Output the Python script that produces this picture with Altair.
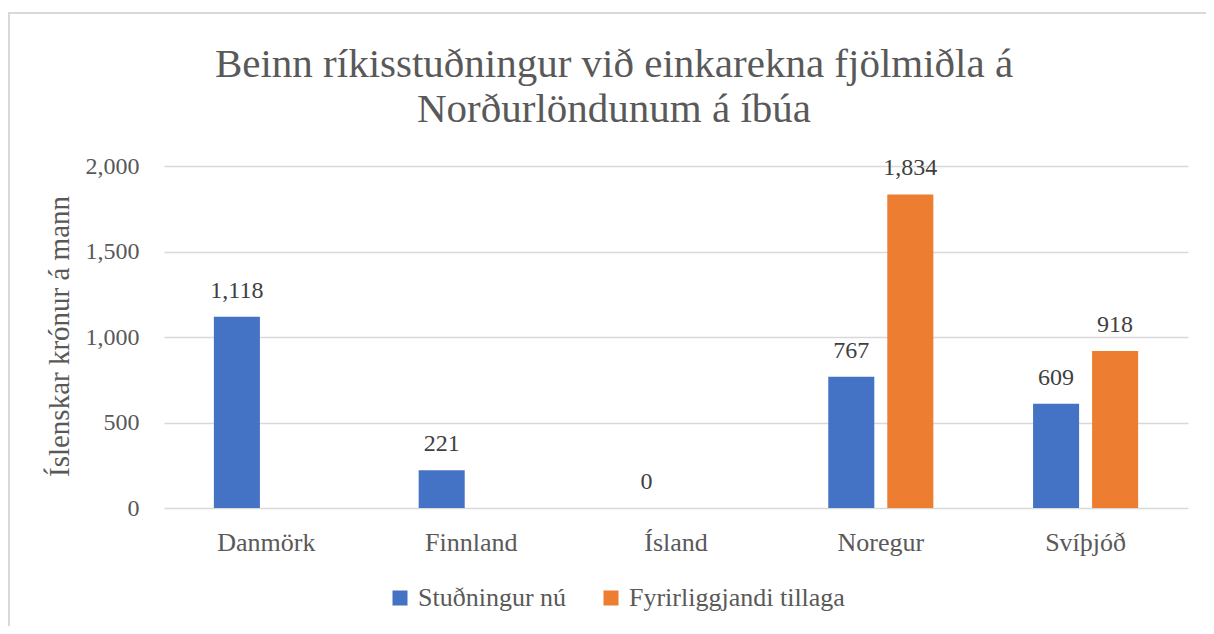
import altair as alt
import pandas as pd

countries = ["Danmörk", "Finnland", "Ísland", "Noregur", "Svíþjóð"]
series = ["Stuðningur nú", "Fyrirliggjandi tillaga"]
nu = [1118, 221, 0, 767, 609]
tillaga = [None, None, None, 1834, 918]
colors = ["#4472C4", "#ED7D31"]
title_lines = ["Beinn ríkisstuðningur við einkarekna fjölmiðla á", "Norðurlöndunum á íbúa"]
y_ticks = [0, 500, 1000, 1500, 2000]

rows = []
for c, a, b in zip(countries, nu, tillaga):
    if a is not None:
        rows.append({"land": c, "röð": series[0], "gildi": a})
    if b is not None:
        rows.append({"land": c, "röð": series[1], "gildi": b})
df = pd.DataFrame(rows)

FONT = "Liberation Serif"
GREY = "#595959"

x = alt.X("land:N", sort=countries, title=None,
          scale=alt.Scale(paddingInner=0.487, paddingOuter=0.2435),
          axis=alt.Axis(labelAngle=0, domain=False, ticks=False, labelPadding=21,
                        labelFontSize=26, labelFont=FONT, labelColor=GREY))
xo = alt.XOffset("röð:N", sort=series,
                 scale=alt.Scale(paddingInner=0.22, paddingOuter=0))
y = alt.Y("gildi:Q", title="Íslenskar krónur á mann",
          scale=alt.Scale(domain=[0, 2000], nice=False),
          axis=alt.Axis(values=y_ticks, format=",d",
                        domain=False, ticks=False, labelPadding=25,
                        labelFontSize=24, labelFont=FONT, labelColor=GREY,
                        gridColor="#d9d9d9", gridWidth=1.5,
                        titleFontSize=29, titleFont=FONT, titleColor=GREY,
                        titleFontWeight="normal", titleX=-105, titleY=170,
                        titleAngle=-90, titleAlign="center", titleBaseline="middle"))

base = alt.Chart(df)

bars = base.mark_bar().encode(
    x=x, xOffset=xo, y=y,
    color=alt.Color("röð:N", sort=series, title=None,
                    scale=alt.Scale(domain=series, range=colors),
                    legend=alt.Legend(orient="none", legendX=223, legendY=419,
                                      direction="horizontal", symbolType="square",
                                      symbolSize=225, symbolStrokeWidth=0,
                                      labelFontSize=26, labelFont=FONT,
                                      labelColor=GREY, labelOffset=5, labelLimit=0,
                                      columnPadding=31)),
)

labels = base.mark_text(font=FONT, fontSize=24, color="#404040", dy=-19,
                        baseline="alphabetic").encode(
    x=x, xOffset=xo, y=y, text=alt.Text("gildi:Q", format=",")
)

frame = alt.Chart(alt.Data(values=[{}])).mark_rect(
    fill=None, stroke="#d9d9d9", strokeWidth=2
).encode(x=alt.value(-155), x2=alt.value(1100), y=alt.value(-153), y2=alt.value(600))

title = alt.Chart(alt.Data(values=[{}])).mark_text(
    text=title_lines, font=FONT, fontSize=41, color=GREY, lineHeight=45,
    align="center", baseline="middle"
).encode(x=alt.value(450), y=alt.value(-101))

chart = alt.layer(frame, title, bars, labels).properties(
    width=1024, height=342,
    autosize=alt.AutoSizeParams(type="none"),
    padding={"left": 156, "top": 158, "right": 18, "bottom": 118},
).configure_view(stroke=None)

chart.save("out.html", embed_options={"renderer": "svg", "actions": False})
